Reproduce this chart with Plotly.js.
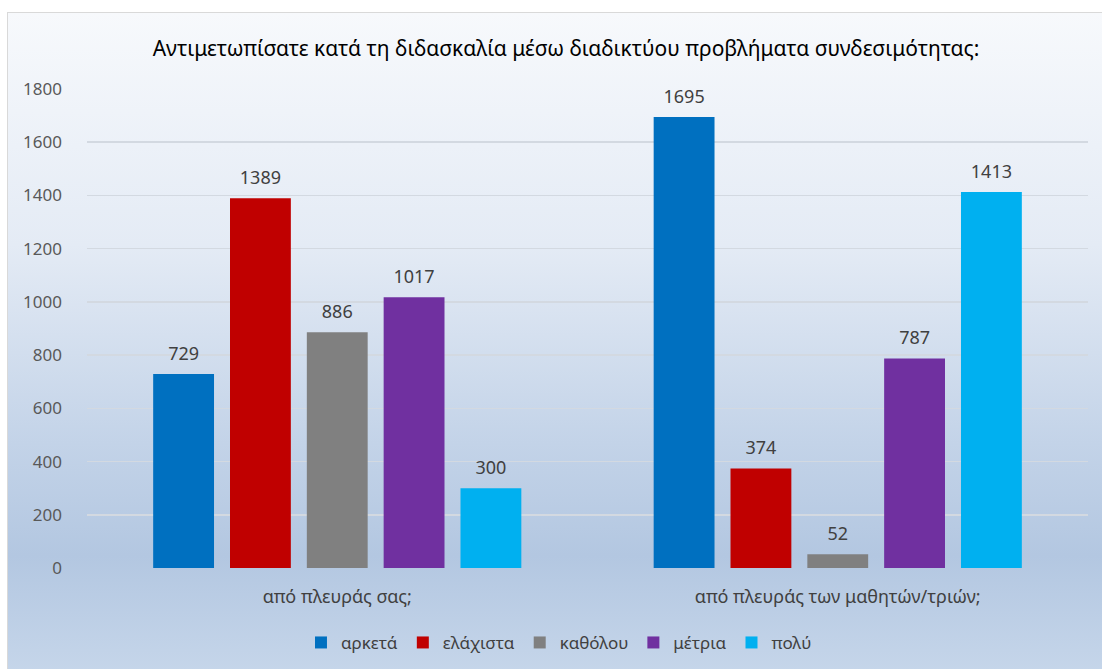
<!DOCTYPE html>
<html>
<head>
<meta charset="utf-8">
<script src="https://cdn.plot.ly/plotly-3.0.1.min.js"></script>
<style>
  body { margin: 0; background: #ffffff; }
  #frame {
    position: absolute; left: 7px; top: 12px; width: 1100px; height: 662px;
    border: 1px solid #d9d9d9;
    background: linear-gradient(to bottom, #f7f9fc 0%, #e4ebf5 35%, #c3d3e8 65%, #b3c7e1 82%, #c6d6ea 100%);
  }
  #chart { position: absolute; left: 0; top: 0; width: 1102px; height: 669px; }
</style>
</head>
<body>
<div id="frame"></div>
<div id="chart"></div>
<script>
var cats = ["από πλευράς σας;", "από πλευράς των μαθητών/τριών;"];
var series_names = ["αρκετά", "ελάχιστα", "καθόλου", "μέτρια", "πολύ"];
var arketa = [729, 1695];
var elaxista = [1389, 374];
var katholou = [886, 52];
var metria = [1017, 787];
var poly = [300, 1413];
var colors = ["#0070C0", "#C00000", "#808080", "#7030A0", "#00B0F0"];

var all_values = [arketa, elaxista, katholou, metria, poly];
var font_name = "Noto Sans";
var gap = 0.2325;

var data = [];
for (let i = 0; i < series_names.length; i++) {
    data.push({
        type: "bar",
        name: series_names[i],
        x: cats,
        y: all_values[i],
        marker: {color: colors[i]}
    });
}
// value labels as grouped text points, so they can sit a little higher
for (let i = 0; i < series_names.length; i++) {
    data.push({
        type: "scatter",
        mode: "markers+text",
        name: series_names[i],
        x: cats,
        y: all_values[i],
        text: all_values[i].map(String),
        textposition: "top center",
        textfont: {family: font_name, size: 18, color: "#404040"},
        marker: {size: 14, opacity: 0},
        showlegend: false,
        cliponaxis: false,
        hoverinfo: "skip"
    });
}

var layout = {
    width: 1102,
    height: 669,
    paper_bgcolor: "rgba(0,0,0,0)",
    plot_bgcolor: "rgba(0,0,0,0)",
    font: {family: font_name, color: "#404040"},
    margin: {l: 87, r: 14, t: 89, b: 101},
    title: {
        text: "Αντιμετωπίσατε κατά τη διδασκαλία μέσω διαδικτύου προβλήματα συνδεσιμότητας:",
        font: {family: font_name, size: 21, color: "#000000"},
        xref: "container", x: 0.5136,
        yref: "container", y: 0.928, yanchor: "middle"
    },
    xaxis: {
        tickfont: {family: font_name, size: 18, color: "#404040"},
        showline: false,
        ticks: "",
        ticklabelstandoff: 16,
        automargin: false
    },
    yaxis: {
        range: [0, 1800],
        dtick: 200,
        gridcolor: "#d3d9e1",
        gridwidth: 1.5,
        zeroline: false,
        tickfont: {family: font_name, size: 17, color: "#595959"},
        ticklabelstandoff: 24,
        automargin: false
    },
    barmode: "group",
    bargap: gap,
    bargroupgap: 0.208,
    scattermode: "group",
    scattergap: gap,
    showlegend: true,
    legend: {
        orientation: "h",
        x: 0.4715, xanchor: "center",
        yref: "container",
        y: 0.039, yanchor: "middle",
        font: {family: font_name, size: 17, color: "#404040"},
        bgcolor: "rgba(0,0,0,0)"
    }
};

Plotly.newPlot("chart", data, layout, {staticPlot: true});
</script>
</body>
</html>
